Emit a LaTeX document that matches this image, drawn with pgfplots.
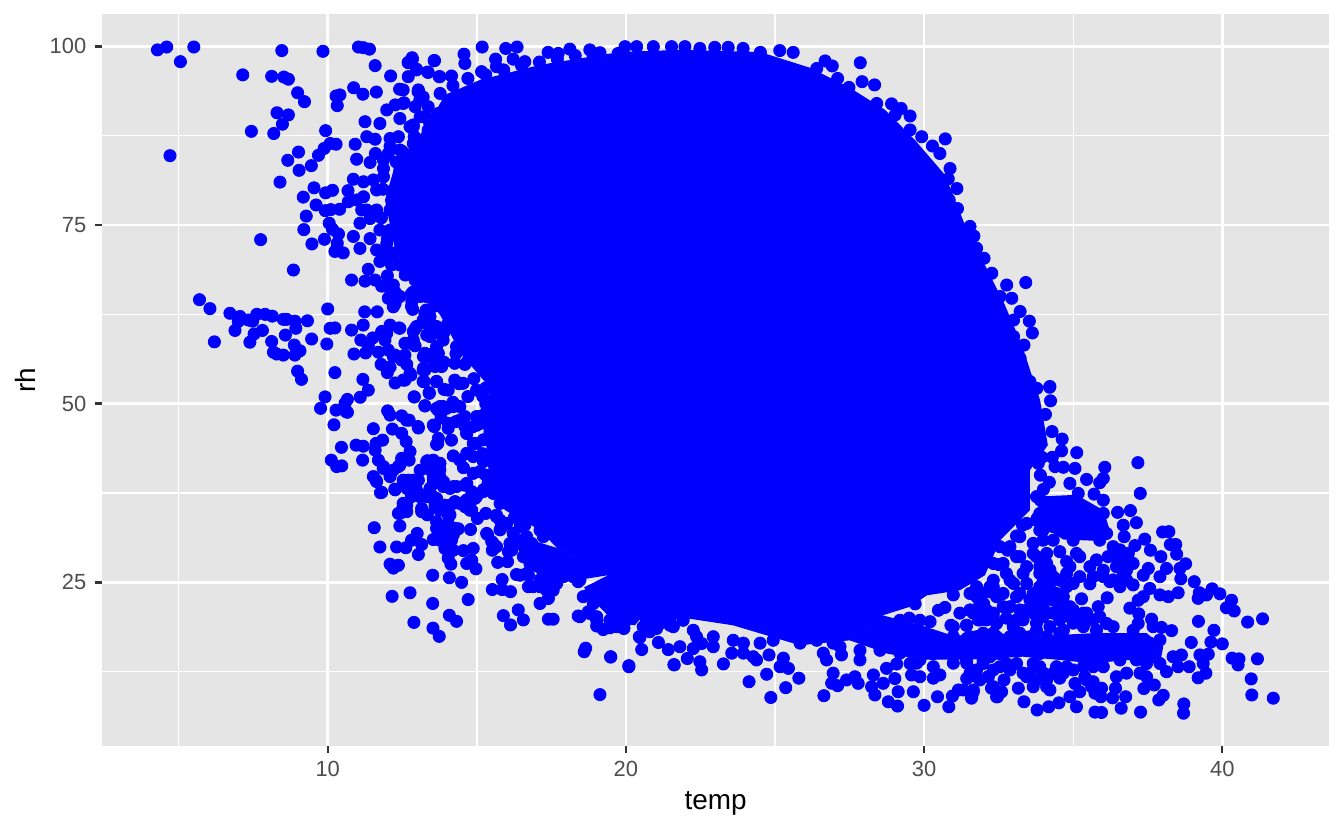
\documentclass[border=0pt]{standalone}
\usepackage{fontspec}
\setmainfont{Liberation Sans}
\usepackage{pgfplots}
\pgfplotsset{compat=1.18}
\definecolor{panel}{HTML}{E5E5E5}
\definecolor{tickc}{HTML}{333333}
\definecolor{ticktxt}{HTML}{4D4D4D}
\begin{document}
\begin{tikzpicture}[x=1bp,y=1bp]
\path[use as bounding box] (0,0) rectangle (672,415);
\begin{axis}[
  at={(51bp,42bp)},anchor=south west,
  scale only axis,width=613.5bp,height=366bp,
  xmin=2.43,xmax=43.58,ymin=2.11,ymax=104.52,
  xtick={10,20,30,40},ytick={25,50,75,100},
  minor xtick={5,15,25,35},minor ytick={12.5,37.5,62.5,87.5},
  grid=both,
  major grid style={white,line width=1.36bp},
  minor grid style={white,line width=0.68bp},
  axis line style={draw=none},
  axis background/.style={fill=panel},
  tick align=outside,tick pos=left,
  major tick length=3.5bp,minor tick length=0pt,
  major tick style={tickc,line width=1.2bp},
  tick label style={font=\fontsize{11}{13}\selectfont,text=ticktxt,inner sep=0pt},
  xticklabel style={anchor=base,yshift=-11.5bp},
  yticklabel style={anchor=east,xshift=-4.2bp},
  /pgf/number format/assume math mode=true,
  xlabel={temp},ylabel={rh},
  label style={font=\fontsize{14}{16}\selectfont,text=black,inner sep=0pt},
  xlabel style={at={(axis description cs:0.5,-0.0874)},anchor=base},
  ylabel style={at={(axis description cs:-0.0538,0.5)},anchor=base},
]
\addplot[fill=blue,draw=none] coordinates {
(13.93,93.2)(15.11,95.3)(17.12,97.4)(19.8,99.2)(21.81,99.5)(24.5,99.2)(26.17,97)(27.51,94.2)(28.69,91.1)(29.69,86.9)(30.7,82)(31.37,75)(32.04,69.4)(32.71,63.8)(33.28,58.2)(33.72,52.6)(33.89,50.5)(34.15,44.2)(33.55,40.7)(33.55,35.1)(32.55,30.9)(32.04,26)(31.2,23.9)(30.1,23.2)(29.53,21.6)(28.62,20.4)(27.51,16.9)(25.84,16.2)(23.59,19)(22.48,19.7)(21.38,20.4)(20.57,20)(20.24,22.8)(19.37,26)(17.69,29.8)(17.12,32.3)(15.95,35.1)(15.44,37.9)(15.34,43.5)(15.11,49.1)(15.51,51.9)(14.5,56.8)(13.77,62.4)(12.93,66.6)(12.26,71.5)(11.92,78.5)(12.26,83.4)(13.36,89)
};
\addplot[fill=blue,draw=none] coordinates {
(33.8,37)(35.11,37.25)(36.01,35.1)(36.23,32.3)(35.89,30.8)(34.67,31)(33.9,33)
};
\addplot[fill=blue,draw=none] coordinates {
(33.44,17.4)(35.67,17.9)(37.46,17.9)(38.02,16)(37.91,13.65)(36.79,14.15)(35.67,13.65)(34.55,14.15)(33.32,14.6)
};
\addplot[fill=blue,draw=none] coordinates {
(28.6,20.4)(29.9,19)(31,17.5)(32.5,18)(33.4,17)(33.3,14.6)(31.5,14.2)(30,14.2)(28.8,15)(27.5,16.9)
};
\addplot[fill=blue,draw=none] coordinates {
(16,32)(16.4,29.5)(16.7,27)(17.6,25)(18.5,25.4)(19.4,26)(17.7,29.8)
};
\addplot[fill=blue,draw=none] coordinates {
(18.6,24.3)(18.9,22.5)(19.6,19.5)(20.3,19)(20.6,20.5)(20.24,23)(19.4,26)
};
\addplot[only marks,mark=*,mark size=3.05bp,blue,mark options={draw=none,fill=blue}] coordinates {
(4.29,99.5)(4.6,99.9)(5.51,99.9)(5.06,97.85)(4.71,84.7)(7.15,96)(8.12,95.8)(8.53,95.7)(8.68,95.4)(8.46,99.4)(9.84,99.3)(11.03,99.9)(11.2,99.8)(11.4,99.6)(11.59,97.3)(12.11,95.85)(11.63,93.6)(11.18,93.3)(10.87,94.2)(10.41,93.2)(10.28,93.05)(10.32,91.7)(8.99,93.5)(9.22,92.25)(8.3,90.7)(8.68,90.4)(8.48,89.1)(7.44,88.1)(8.19,87.8)(9.93,88.2)(10.28,86.3)(10.08,86.4)(9.88,85.7)(9.69,84.75)(9.02,85.2)(8.66,84.05)(9.04,82.65)(9.45,83.3)(8.4,81)(9.54,80.2)(9.18,78.9)(9.93,79.5)(10.16,79.85)(10.68,79.8)(9.61,77.8)(9.92,77)(10.1,77.15)(10.4,77.2)(9.28,76.25)(9.2,74.35)(10.05,75.25)(10.16,74.4)(10.36,73.75)(7.75,72.95)(9.47,72.35)(9.89,73)(10.32,72.45)(10.24,71.3)(10.52,71.1)(10.86,81.4)(10.92,86.3)(10.97,84.2)(11.42,83.75)(11.6,85)(11.31,87.35)(11.59,87)(11.25,89.45)(11.2,81.05)(11.53,81.3)(10.69,78.25)(10.97,78.5)(11.14,77.1)(11.08,75.25)(10.86,73.4)(11.08,71.73)(11.42,73.1)(11.64,77.1)(11.98,91.1)(12.26,91.8)(12.56,92.1)(11.75,89.2)(12.42,89.9)(12.09,87.1)(12.03,85)(11.87,82.9)(12.84,98.2)(12.7,97.7)(13.58,98)(13.35,96.4)(12.98,96.8)(12.7,95.75)(12.41,94)(13.04,93.9)(13.2,92.9)(12.93,91.55)(13.74,95.75)(13.77,93.4)(13.32,90.15)(12.87,89)(13.37,88.3)(13.71,90.6)(12.42,85.5)(12.87,86.4)(13.1,84.55)(12.42,82.7)(12.98,81.75)(13.54,84.1)(12.2,79.9)(12.65,79.4)(13.32,79.9)(12.09,77.1)(12.65,77.6)(13.1,76.15)(13.65,77.6)(12.09,74.3)(12.54,72.9)(13.1,73.4)(13.65,74.3)(11.87,70.8)(12.42,71.5)(12.98,71.05)(13.54,71.5)
(8.85,68.7)(5.7,64.55)(6.05,63.3)(6.72,62.65)(7.06,62.2)(7,61.5)(7.34,61.7)(7.48,61.55)(7.62,62.5)(7.9,62.5)(8.14,62.25)(8.51,61.8)(8.62,61.8)(8.9,61.55)(9.32,61.6)(8.93,60.55)(6.89,60.25)(7.81,60.25)(7.53,59.75)(8.58,59.6)(6.2,58.65)(7.39,58.6)(8.12,58.7)(9.46,59.05)(9.97,58.35)(8.88,58.2)(9.07,57.4)(8.9,56.8)(8.18,57.2)(8.51,56.8)(8.29,56.95)(10,63.25)(10.08,60.55)(10.24,60.6)(10.8,60.3)(11.24,62.85)(11.66,62.85)(11.19,61)(12.09,61)(12.39,60.6)(11.81,60.1)(11.51,59.2)(11.11,58.9)(11.92,58.9)(10.88,56.95)(11.27,57.1)(11.36,58.2)(11.7,57.2)(12.03,57.5)(12.26,56.8)(12.59,56.8)(12.48,56.1)(11.79,55.5)(12.65,55.5)(12.09,55.1)(12,54.35)(12.79,54)(12.59,53.3)(12.26,52.9)(13.24,53.1)(13.65,53.1)(8.99,54.55)(9.12,53.4)(10.24,54.35)(11.18,53.4)(11.36,51.9)(11.09,50.9)(12.9,50.95)(13.41,51.45)(13.26,49.7)(13.65,49.35)(9.91,50.95)(9.76,49.35)(10.28,49.1)(10.66,50.6)(10.58,50.05)(10.66,48.8)(10.21,47.05)(12.01,49)(12.09,48.4)(12.48,48.3)(12.73,47.7)(13.04,46.6)(13.58,46.9)(11.53,46.5)(12.17,46.45)(12.48,45.85)(11.84,44.9)(12.63,44.7)(11.62,44.45)(10.95,44.2)(11.19,44.05)(10.46,43.9)(13.69,44.45)(11.59,43.5)(12.76,43.3)(11.7,42.1)(12.48,42.35)(12.73,42.1)(11.17,42.1)(10.12,42.1)(10.3,41.2)(10.47,41.3)(11.87,41.2)(12.2,40.7)(12.42,41.4)(13.35,42)(13.1,40.7)(13.6,40.7)(11.62,39.3)(12.09,39.8)(12.7,39.1)(12.98,39.1)(13.54,38.85)(11.81,37.6)(12.26,37.95)(12.82,37.45)(13.37,37.45)(12.65,35.8)(13.15,35.35)(13.6,36.05)
(10.8,67.3)(11.36,68.8)(11.25,67.15)(11.59,67.3)(12,67.9)(11.81,66.45)(12.2,66.6)(12.26,65.6)(12.03,64.75)(12.2,63.55)(12.87,65.65)(12.82,64.3)(12.85,63.2)(12.93,68)(13.15,68.9)(12.93,67.3)(13.54,68.2)(13.54,65.4)(13.2,65.9)(12.42,69.4)(12.14,69.4)(11.75,69.9)(13.3,63.1)(13.2,61.7)(12.93,60.5)(13.43,59.4)(13.65,60.8)(12.87,58.9)(12.59,58.45)(12.93,58.1)(13.21,56.6)(13.54,57.05)(13.21,54.95)(13.6,55.2)(13.65,64)
(10.61,48.9)(13.57,46.8)(13.71,45.15)(13.65,44.3)(14.15,44.9)(14.04,46.55)(13.76,49.6)(13.99,49.35)(14.21,49.8)(14.21,42.7)(14.55,41.05)(14.88,40.25)(15.22,42.1)(14.66,45.85)(14.99,44.45)(14.6,48.2)(14.99,48.2)(14.43,49.6)(15.33,47.25)(13.34,42)(13.76,41.65)(11.53,39.8)(11.64,39.1)(11.77,37.55)(12.25,38.05)(12.09,40)(11.86,40.95)(12.37,41.2)(12.7,39.3)(13.04,39.3)(12.81,37.2)(13.48,37.2)(13.6,39.3)(13.88,38.4)(14.21,38.4)(13.65,40.7)(13.76,39.8)(14.6,38.6)(14.94,36.75)(15.22,37.95)(15.38,38.85)(12.53,35.6)(12.37,34.65)(12.65,34.9)(12.42,32.9)(11.56,32.65)(13.15,34.9)(13.34,34.45)(13.6,35.5)(13.93,35.8)(14.27,36.3)(14.6,35.6)(14.77,35.1)(14.1,34.45)(15.02,33.95)(15.3,34.65)(13.65,33.5)(13.71,32.55)(14.04,33.25)(14.38,32.5)(14.79,32.4)(13,31.85)(14.21,31.65)(13.54,31)(12.81,30.9)(13.15,30.3)(12.62,29.85)(12.31,29.95)(11.75,29.95)(13.04,28.9)(13.93,29.75)(14.21,29.5)(14.55,29.45)(14.88,29.75)(14.04,28.4)(14.13,27.55)(14.83,28.1)(14.66,27.65)(14.97,26.9)(12.09,27.55)(12.37,27.4)(12.2,27)(13.52,26)(14.08,25.65)(14.49,25)(12.16,23.05)(12.76,23.55)(13.52,22.05)(14.71,22.6)(14.08,20.4)(14.32,19.55)(12.89,19.4)(13.53,18.6)(13.74,17.45)(15.36,31.7)(15.55,30.45)(15.52,29.5)(15.81,32.6)(16.26,34.1)(15.7,27.8)(16.03,27.9)(16.33,26.1)(16.73,26)(15.85,25.4)(15.52,24)(15.85,24)(16.13,23.7)(16.73,24.4)(17.12,22.05)(17.4,22.75)(15.89,20.35)(16.39,21.15)(16.56,19.75)(16.13,19.05)(17.4,19.85)(17.56,19.85)(18.4,20.3)(18.74,20.9)(18.65,15.8)(18.6,15.3)(19.49,14.55)(20.1,13.35)(20.53,15.6)(21.09,16.6)(21.42,15.6)(21.62,13.45)(19.02,18.9)(19.24,18.4)(19.46,18.65)(19.93,18.55)(20.47,17.3)(20.8,18.1)(21.03,18.55)(21.48,19.25)(18.74,23.25)(19.02,22.55)(19.35,22.05)(19.58,23)(19.91,22.05)(19.58,20.65)(19.91,20.4)(19.02,20.2)(18.4,25.1)(18.01,26)(17.12,24.4)(17.45,24.15)(17.56,25.8)(17.23,26.25)(16.67,28.6)(17.23,31.4)(17.12,32.3)(16.67,31.4)(16.84,30.45)(16.45,30.9)(16.17,29.5)(16.61,33)(15.66,34.2)(20.47,20.65)(20.69,19.7)(21.14,20.65)(21.59,20.65)(20.58,22.05)(20.97,23)
(19.49,14.6)(20.1,13.2)(19.13,9.3)(19.93,18.6)(20.45,17.4)(20.81,18.6)(21.61,13.5)(22.06,14.35)(22.54,12.75)(22.48,13.9)(21.81,16)(22.26,15.75)(22.54,16.45)(21.48,19)(22.37,17.4)(23.27,13.6)(23.55,15.1)(22.93,16)(24.13,11.1)(24.27,14.6)(24.38,14.15)(23.94,15.1)(24.8,14.85)(24.72,12.15)(25.17,13.2)(25.45,12.97)(25.28,14.4)(25.8,11.6)(25.36,10.27)(24.86,8.9)(26.64,9.15)(26.95,12.3)(26.9,10.9)(27.1,10.55)(26.73,14.15)(26.62,15.1)(27.18,16)(27.23,14.85)(27.85,14.15)(27.68,11.8)(27.79,10.88)(27.4,11.35)(28.3,12.05)(28.24,10.4)(28.35,9.25)(28.63,10.88)(28.74,12.97)(29.08,13.58)(29.02,11.55)(29.13,9.7)(28.8,8.3)(29.11,7.7)(29.64,9.7)(30,7.8)(30.45,9)(30.83,7.6)(30.95,9.1)(31.15,9.95)(29.58,12.05)(29.86,11.8)(30.31,11.6)(30.53,12.05)(31.6,9)(31.65,9.95)(31.43,11.55)(31.87,11.35)(32.43,9)(32.32,10.4)(32.15,11.8)(30.7,21.5)(30.48,21.1)(30.98,23.25)(31.54,21.1)(31.82,19.75)(31.43,19)(31.43,17.15)(31.76,12.75)(31.43,13.7)(31.93,16.5)(32.32,16.95)(32.21,14.6)(29.53,13.65)(29.86,14.15)(30.31,13.2)(30.98,13.7)(30.87,15.1)(29.75,16)(30.3,15)(30.5,17)(29.9,18)(30.2,19.5)(29.5,20)(29.7,22)(30.9,19)(31,17)(32,22)
(22.26,18.3)(22.93,17.4)(23.6,16.9)(23.94,16.5)(21.92,19.7)(21.59,18.8)(24.5,16.5)(24.94,16.9)(25.84,16.5)(26.4,16.9)(26.95,16.5)(27.85,15.5)(28.52,15.5)(28.97,16)(29.41,17.4)(29.86,16.9)(30.31,16)(30.98,17.4)(31.43,15.5)(31.98,14.15)(32.43,15.1)(29.75,13.7)(29.19,15.1)(29.86,19.7)(29.19,19.7)(28.97,17.9)(31.76,23)(32.21,24.4)(32.32,20.2)(31.98,17.9)(30.98,18.8)
(34.22,52.4)(34.24,50.4)(34.07,48.5)(34.29,46.1)(34.63,45.05)(34.61,43.4)(35.12,43.15)(36.06,41.1)(37.17,41.75)(37.25,37.45)(35.45,39.4)(36.01,39.55)(35.89,38.95)(35.06,40.95)(34.67,41.1)(34.39,41.2)(34.89,38.85)(33.83,41.65)(35.7,37.35)(36.01,36.5)(35.17,37.45)(36.49,34.8)(36.92,35.05)(37.12,33.35)(36.68,33)(36.71,31.4)(38,32.05)(38.21,32.1)(37.4,31.05)(37.07,30.15)(38.26,30.3)(38.44,30.3)(38.47,28.95)(37.59,29.5)(37.94,28.6)(38.77,27.6)(38.58,26.95)(38.61,25.5)(38.13,26.95)(37.52,26.95)(37.35,26)(37.91,25.8)(39.06,25.1)(39.23,23.55)(39.19,22.77)(39.47,23.25)(39.66,24.1)(39.92,23.4)(40.31,22.5)(40.14,21.45)(40.4,21)(40.85,19.45)(41.35,19.9)(39.2,19.55)(39.72,18.3)(39.62,16.65)(40,16.4)(38.96,16.6)(41.18,14.3)(40.33,14.4)(40.56,14.3)(40.53,13.45)(40.97,11.5)(40.99,9.25)(41.71,8.8)(39.45,12.3)(39.19,11.65)(39.53,14.95)(39.25,14.85)(39.36,13.65)(38.89,13.2)(38.52,13.2)(38.63,14.85)(38.35,14.6)(38.13,12.5)(38.3,18.25)(37.96,18.7)(37.68,18.8)(37.63,19.85)(37.2,20.6)(36.9,21.4)(37.18,19.25)(37.01,18.3)(36.14,22.85)(35.28,22.7)(35.84,21.6)(37.18,22.5)(37.35,23)(37.91,23.25)(38.19,23)(38.52,23.55)(37.57,24.15)(37.01,24.65)(36.57,24.4)(36.23,25.1)(35.56,24.8)(36.01,25.8)(35.22,25.8)(34.78,26.25)(36.85,27.65)(36.68,26)(36.45,27.2)(36.85,29.05)(34.55,29.3)(34.78,27.9)(35.22,28.6)(35.78,28.15)(36.17,28.6)(36.34,30)(35.89,30.9)(35,30.9)(35.45,32.3)(35.89,33.25)(36.01,34.65)(35.56,34.65)(35,33.7)(34.44,34.65)(34.78,35.6)(34.11,35.6)(34.33,32.8)(33.99,32.3)(33.66,30.45)(34.11,27.65)(33.44,27.2)(33.88,26.25)(34.33,25.8)(33.1,28.6)(32.76,26.25)(32.32,24.4)(33.66,23.45)(34.22,23.45)(34.78,24.4)(34.55,22.05)(33.99,21.6)(33.55,22.55)(33.1,23)(32.65,21.6)(32.43,23)(31.98,23.45)(31.54,21.15)(31.42,19)(31.87,19.75)(32.32,20.7)(32.76,20)(33.32,19.75)(33.32,17.4)(33.77,18.3)(34.33,20.7)(35,21.15)(35.45,20.7)(35,19.3)(34.55,17.9)(34.11,17.4)(33.66,16.5)(33.21,15.55)(32.88,17.4)(32.65,16.5)(32.43,17.4)(31.76,17.4)(31.42,16.5)(31.87,15.55)(31.42,14.15)(31.98,13.65)(32.54,13.2)(32.76,13.65)(32.15,11.8)(32.68,11.35)(32.6,9.7)(32.46,9)(32.26,10.2)(31.65,9.7)(31.59,8.8)(31.31,9.95)(31.76,11.8)(33.21,16)(33.16,10.2)(33.35,8.3)(33.44,11.8)(33.88,13.2)(34.33,12.3)(34.78,13.2)(34.55,11.6)(34.22,9.95)(33.66,10.4)(33.79,7.15)(34.18,7.6)(34.52,8.15)(35.11,7.6)(34.89,9)(35.22,9.7)(35.06,10.85)(35.39,11.8)(35.67,11.1)(35.95,10.2)(35.73,9.5)(35.93,9)(36.32,8.85)(36.42,10.2)(36.76,9)(36.61,7.4)(35.73,6.85)(35.95,6.8)(37.26,6.85)(37.87,8.55)(38.02,9.2)(38.71,8)(38.7,6.7)(37.37,10.15)(37.72,10.65)(37.46,11.8)(37.24,12.3)(36.45,11.8)(36.79,12.3)(35.67,13.2)(36.01,13.2)(36.57,14.15)(37.12,14.15)(37.46,13.65)(37.91,13.65)(37.91,16.95)(37.57,16.5)(37.01,16.95)(36.57,16.5)(36.01,16.95)(35.56,15.55)(35.11,16.5)(34.55,15.55)(33.88,15.05)(36.12,19.25)(36.34,18.8)(35.78,18.3)(35.34,18.8)(35.89,15.05)(36.34,15.05)(36.79,15.55)(33.44,24.85)(32.88,25.3)(33.88,24.4)(32.32,27.65)(31.87,29.05)(32.54,30)(33.21,31.4)(33.44,33.25)(33.88,34.65)(33.77,37)(33.99,30.9)(33.66,29.05)(31.87,22.05)
(32.88,30)(33.21,28.6)(32.65,27.65)(33.32,26.25)(32.32,25.3)(33,24.85)(31.76,24.4)(33.77,28.6)(34.11,29.05)(33.88,32.3)(33.77,33.7)(34.33,30.9)(35.11,29.05)(34,25.3)(34.22,24.85)(32.65,23.45)(33.21,21.15)(33.66,20.7)(32.99,18.8)(32.09,21.15)(31.2,20.7)(33.44,15.55)(33.1,13.65)(33.55,12.3)(34.11,11.35)(33.77,13.2)(32.32,15.05)(31.54,12.3)(33.88,23)(34.33,22.5)(34.89,21.6)(33.99,20.2)(34.55,19.75)(35.34,20.7)(35.67,19.75)
(26.68,97.95)(26.92,97.25)(26.4,96.9)(27.1,95.5)(27.86,97.7)(27.48,94.25)(27.92,95.05)(28.34,94.6)(28.41,92)(28.91,91.95)(29.23,91.3)(29.03,90.4)(29.53,90.25)(29.92,87.35)(30.71,87.05)(30.28,86.05)(29.53,88.3)(30.53,85)(30.87,82.9)(30.81,81.45)(31.1,80.1)(30.84,78.5)(31.12,77.3)(31.54,74.8)(31.67,73.45)(31.76,71.75)(32.01,70.35)(32.27,68.25)(32.77,66.6)(33.41,66.95)(32.94,64.75)(33.22,62.9)(33.53,61.55)(33.63,59.9)(33.35,58.2)(33.22,56.35)(33.55,53.1)(34.21,52.3)(33.78,52.15)(33,61.7)(32.55,65)(33,59.4)(32.77,58)
(15.18,99.9)(15.97,99.7)(16.35,99.9)(17.39,99.15)(17.73,99)(18.12,99.6)(18.79,99.5)(19.13,99.1)(19.74,99)(19.97,99.95)(20.36,99.95)(20.92,99.95)(21.53,99.95)(21.98,99.95)(22.48,99.7)(22.98,99.85)(23.43,99.85)(23.93,99.7)(24.51,99.15)(25.16,99.4)(25.61,99.15)(14.57,98.9)(14.6,97.6)(12.83,98.4)(13.57,98)(12.7,97.75)(13.37,96.35)(13.76,95.75)(12.98,96.7)(14.15,95.85)(15.63,98.2)(16.22,98.2)(15.66,97.15)(15.16,96.45)(16.61,97.85)(12.53,93.9)(13.03,93.65)(13.09,92.5)(12.53,92)(12.87,88.75)(13.37,88.05)
(12.48,69.4)(12.81,70.6)(12.92,68)(12.81,65.4)(12.81,63.6)(13.26,62.65)(13.59,65.4)(13.76,63.8)(13.31,66.4)(14.1,63.1)(14.26,61.25)(13.31,61.25)(12.42,60.55)(12.76,58.45)(13.54,59.85)(13.87,58.9)(13.26,56.6)(13.71,57.05)(13.82,55.2)(13.2,54.7)(13.65,53.1)(13.2,53.1)(12.76,54.25)(12.53,53.3)(13.4,51.55)(12.9,50.95)(13.26,49.7)(13.87,49.6)(13.7,49.1)(14.21,49.6)(12.64,47.7)(13.03,46.8)(13.54,47)(14.04,47.25)(14.49,47.7)(15.1,48.2)(15.33,52.15)(14.99,51.9)(14.54,52.85)(14.26,53.3)(14.26,55.65)(14.04,51.9)(14.32,58)(14.66,57.5)(14.43,59.4)(14.88,58)(15.21,54.7)
(14,68)(14.3,66.5)(14.5,64)(14.2,62)(13.9,60)(14.4,59.5)(14.8,62.5)(14.7,60)(15,58)(14.3,57)(13.9,55.8)(14.6,55.5)(15.2,56)(14.9,53.5)(14.4,52.8)(13.9,52)(14.7,51)(15.3,52.2)(15.3,50)(14.2,50.2)(13.8,48)(14.3,47.5)(15.1,47.5)(14.6,46.8)
(13.32,41.9)(13.54,42.1)(13.76,41.65)(13.43,40.75)(13.76,40.75)(13.54,39.55)(13.88,39.1)(14.1,38.15)(14.32,38.4)(13.43,38.15)(13.32,37)(13.65,36.75)(12.53,39.3)(12.87,39.3)(12.65,38.15)(12.98,37.9)(12.81,37)(13.09,37)(12.53,36.05)(12.42,34.65)(13.88,35.6)(14.21,36.05)(13.76,35.1)(14.04,34.45)(14.43,36.05)(14.83,35.1)(14.66,36.55)(13.65,32.55)(13.88,31.85)(14.21,31.85)(13.76,30.9)(13.99,30)(14.27,32.55)(14.15,30.9)(15.33,31.85)(15.5,30.7)(15.66,30)(15.78,32.35)(16,33.25)(16.22,31.85)(16.45,32.8)(16.11,30.45)(16.33,30.9)(16.06,29.3)(16.67,30.9)(14.43,47.7)(14.88,46.8)(15.1,47.25)(14.66,45.85)(14.88,44.45)(15.22,44.95)(15.44,45.85)(14.66,43.05)(14.88,42.6)(15.22,41.9)(14.43,42.1)(15.1,40.5)(15.44,39.8)(15.66,41.2)(14.66,38.85)(14.83,37.7)(14.99,37)(15.22,37.7)(15.38,38.85)(15.55,37.45)(15.78,36.05)(15.66,34.4)(15.89,36.55)(16.11,37.45)(16.45,36.55)(16.67,35.1)(16.45,34.4)(15.78,33.7)(16.56,28.6)(16.78,27.65)(17,28.6)(17.12,27.2)(17.34,28.1)(17.56,26.7)(17.79,27.65)(18.12,26.7)(17.9,25.8)(18.23,25.8)(18.46,25.35)(16.67,26.25)(16.45,26)(17.12,25.35)(17.45,25.1)(17.68,24.85)(17.34,23.9)(17.56,23.9)(16.89,24.4)(18.57,23)(18.91,22.05)(19.24,22.55)(19.69,22.05)(20.02,22.05)(19.8,20.65)(19.46,19.7)(19.02,19.7)(18.79,20.65)(18.46,20.2)(20.02,19.7)(19.69,18.8)(20.25,22.55)(20.47,20.65)(20.8,19.7)(21.14,19.25)(20.8,21.6)(21.14,22.05)(21.59,21.15)(21.48,19.7)(21.7,21.6)(20.58,18.8)
(13.1,67.8)(13.43,66.85)(13.1,65)(13.54,63.6)(13.43,62.2)(12.98,60.8)(13.32,59.6)(13.65,58)(13.26,57.05)(13.54,56.1)(13.26,54.7)(11.98,66.4)(12.42,65)(12.26,64)(11.98,59.85)(12.2,56.6)(12.54,56.1)(12.87,60.1)(11.31,77.1)(11.42,75.9)(11.2,78.95)(11.64,79.9)(11.87,81.75)(11.75,74.3)(11.98,72.4)(11.87,84.1)(12.09,86)(12.37,87.35)(12.76,88.75)(13.1,90.15)(13.37,91.55)(11.64,71.5)(12.2,71.05)
(31.54,23.45)(32.21,23.7)(32.88,21.6)(33.1,19.75)(33.44,21.15)(33.77,22.05)(34.11,23)(34.44,23.45)(34.67,23)(34.11,20.7)(34.55,20.7)(34.89,20.2)(33.77,19.3)(34.22,18.8)(34.67,18.3)(35.11,19.75)(35.56,19.75)(35.89,20.2)(33.21,17.9)(33.55,17.4)(33.44,16)(33.88,16.5)(34.33,15.55)(32.88,16)(32.32,17.9)(31.98,16.95)(32.54,15.05)(32.21,16)(31.54,17.4)(32.09,19.75)(32.43,19.25)(31.65,20.7)(31.87,21.15)(31.54,15.55)(31.98,14.6)(32.32,12.75)(32.88,12.75)(33.32,12.3)(33.66,13.65)(34,12.3)(34.44,13.2)(34.67,12.3)(33.77,11.35)(34.11,10.4)(35,12.75)(35.34,13.2)(35.45,11.35)(35.62,10.4)(34.89,27.2)(35.56,27.2)(36.01,26.7)(35.67,25.8)(36.34,25.35)(36.79,25.35)(36.79,26.7)(34.55,25.3)(35,24.85)(34.22,26.75)(33.88,27.2)(33.21,23.45)(36.12,31.85)(36.57,29.55)(37.01,27.65)(36.45,28.6)(36.79,28.15)
(33.9,40)(34,38)(33.9,36.5)(34.2,39)(33.8,34)(33.3,33)(33.1,31.5)(32.8,29.5)(32.5,27.5)(34.3,42.5)(33.95,42.5)
(14.2,94.5)(14.7,95.5)(15.3,96)(15.9,96.7)(16.5,97.3)(17.1,97.8)(17.7,98.2)(18.3,98.7)(18.9,98.7)(12.3,83.8)(12.5,85.3)(12.9,87.4)(13.4,89.5)(11.85,80)(11.8,76)(12,73)(12.2,70.5)(12.6,68)(13.3,65)(14,61)(14.7,56)(15.2,51)(15,47)(15.2,43)(15.3,40)
};
\end{axis}
\end{tikzpicture}
\end{document}
